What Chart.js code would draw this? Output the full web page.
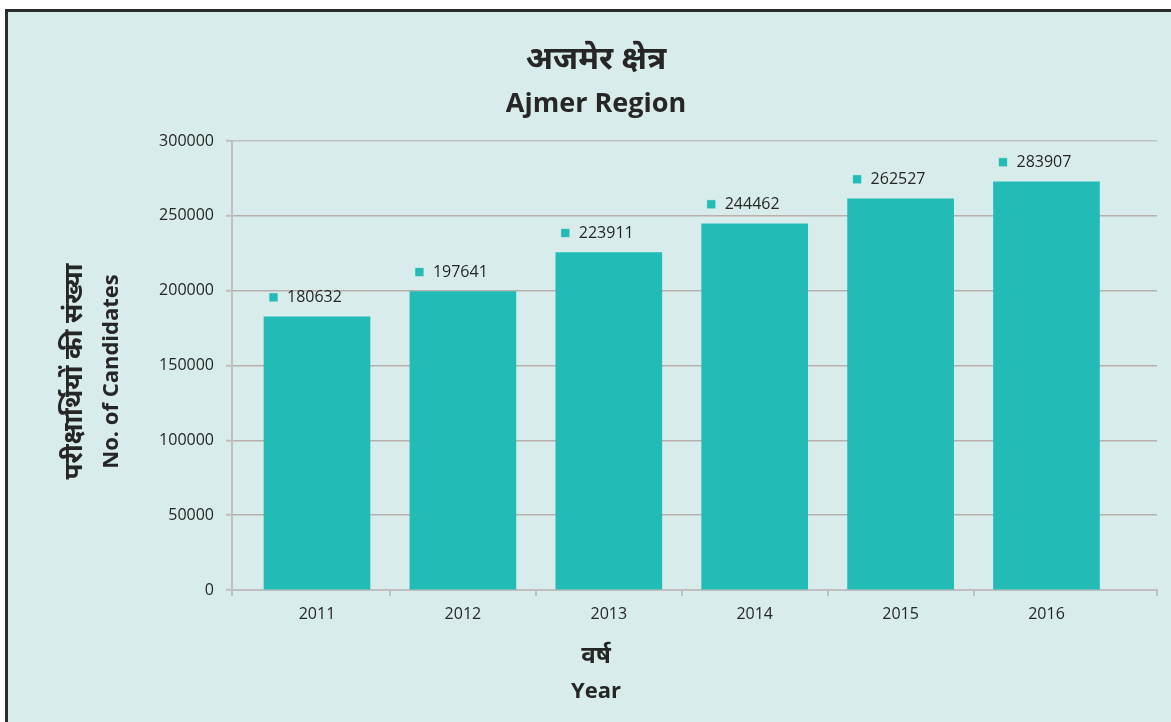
<!DOCTYPE html>
<html>
<head>
<meta charset="utf-8">
<script src="https://cdn.jsdelivr.net/npm/chart.js@4/dist/chart.umd.min.js"></script>
<style>
  html, body { margin: 0; padding: 0; background: #ffffff; overflow: hidden; }
  #frame { position: absolute; left: 5px; top: 9px; width: 1200px; height: 800px;
           border: 3px solid #2b2b2b; background: #d8edeb; }
  #wrap { position: absolute; left: 0; top: 0; width: 1171px; height: 722px; }
</style>
</head>
<body>
<div id="frame"></div>
<div id="wrap"><canvas id="c"></canvas></div>
<script>
// ---- data ----
const years = [2011, 2012, 2013, 2014, 2015, 2016];
const barValues = [182500, 199400, 225500, 244700, 261400, 272800];   // bar heights as drawn
const labelValues = [180632, 197641, 223911, 244462, 262527, 283907]; // printed data labels
const titleHindi = 'अजमेर क्षेत्र';
const titleEnglish = 'Ajmer Region';
const yTitleLines = ['परीक्षार्थियों की संख्या', 'No. of Candidates'];
const xTitleLines = ['वर्ष', 'Year'];
const yMin = 0, yMax = 300000, yStep = 50000;

// ---- styles ----
const FONT = '"Open Sans", "Noto Sans", "Noto Sans Devanagari", "Lohit Devanagari", sans-serif';
const TEXT = '#262626';
const BAR = '#22bbb5';
const AXIS = '#bfbfbf';
const GRID = '#b8afab';

Chart.defaults.font.family = FONT;
Chart.defaults.color = TEXT;

const dataLabels = {
  id: 'dataLabels',
  afterDatasetsDraw(chart) {
    const ctx = chart.ctx;
    const meta = chart.getDatasetMeta(0);
    ctx.save();
    ctx.font = '16px ' + FONT;
    ctx.textBaseline = 'middle';
    ctx.textAlign = 'left';
    meta.data.forEach((el, i) => {
      const left = el.x - el.width / 2;
      const y = el.y - 19.5;
      ctx.fillStyle = '#9fdcd8';
      ctx.fillRect(left + 5, y - 4.5, 9, 9);
      ctx.fillStyle = BAR;
      ctx.fillRect(left + 5.5, y - 4, 8, 8);
      ctx.fillStyle = TEXT;
      ctx.fillText(String(labelValues[i]), left + 23, y);
    });
    ctx.restore();
  }
};

const axisDecor = {
  id: 'axisDecor',
  afterDraw(chart) {
    const x = chart.scales.x;
    const ca = chart.chartArea;
    const ctx = chart.ctx;
    ctx.save();
    // end tick marks of the category axis
    ctx.strokeStyle = AXIS;
    ctx.lineWidth = 2;
    [x.left, x.right].forEach(px => {
      ctx.beginPath();
      ctx.moveTo(px, x.top);
      ctx.lineTo(px, x.top + 6);
      ctx.stroke();
    });
    // axis titles (two lines each, different sizes)
    ctx.fillStyle = TEXT;
    ctx.textAlign = 'center';
    ctx.textBaseline = 'middle';
    const cx = (chart.width - 14 + 35) / 2;
    ctx.font = 'bold 24px ' + FONT;
    ctx.fillText(xTitleLines[0], cx, ca.bottom + 66);
    ctx.font = 'bold 22px ' + FONT;
    ctx.fillText(xTitleLines[1], cx, ca.bottom + 102);
    const cy = (ca.top + ca.bottom) / 2 + 6;
    ctx.translate(0, cy);
    ctx.rotate(-Math.PI / 2);
    ctx.font = 'bold 26px ' + FONT;
    ctx.fillText(yTitleLines[0], 0, 75);
    ctx.font = 'bold 22px ' + FONT;
    ctx.fillText(yTitleLines[1], 0, 112);
    ctx.restore();
  }
};

new Chart(document.getElementById('c'), {
  type: 'bar',
  data: {
    datasets: [{
      data: barValues.map((v, i) => ({ x: years[i], y: v })),
      backgroundColor: BAR,
      borderWidth: 0,
      barThickness: 106
    }]
  },
  options: {
    responsive: true,
    maintainAspectRatio: false,
    animation: false,
    layout: { padding: { left: 35, right: 14, top: 0, bottom: 0 } },
    plugins: {
      legend: { display: false },
      tooltip: { enabled: false },
      title: {
        display: true,
        text: titleHindi,
        color: TEXT,
        font: { size: 32, weight: 'bold', lineHeight: 1.2 },
        padding: { top: 41, bottom: 0 }
      },
      subtitle: {
        display: true,
        text: titleEnglish,
        color: TEXT,
        font: { size: 27, weight: 'bold', lineHeight: 1.2 },
        padding: { top: 8.5, bottom: 20.7 }
      }
    },
    scales: {
      x: {
        type: 'linear',
        offset: false,
        min: 2010.4174,
        max: 2016.7574,
        afterBuildTicks: s => { s.ticks = years.map(v => ({ value: v })); },
        afterFit: s => { s.height = 132; },
        ticks: { callback: v => String(v), font: { size: 16 }, color: TEXT, padding: 9, maxRotation: 0 },
        grid: {
          offset: true,
          drawOnChartArea: false,
          tickLength: 6,
          lineWidth: 2,
          tickColor: c => (c.type !== 'tick' || c.index === 0) ? 'rgba(0,0,0,0)' : AXIS
        },
        border: { display: true, color: AXIS, width: 2 }
      },
      y: {
        min: yMin,
        max: yMax,
        ticks: { stepSize: yStep, callback: v => String(v), font: { size: 16 }, color: TEXT, padding: 12 },
        afterFit: s => { s.width = 197; },
        grid: {
          color: c => c.tick && c.tick.value === yMax ? AXIS : GRID,
          lineWidth: 1.5,
          tickLength: 6,
          tickColor: AXIS,
          tickWidth: 2
        },
        border: { display: true, color: AXIS, width: 2 }
      }
    }
  },
  plugins: [dataLabels, axisDecor]
});
</script>
</body>
</html>
